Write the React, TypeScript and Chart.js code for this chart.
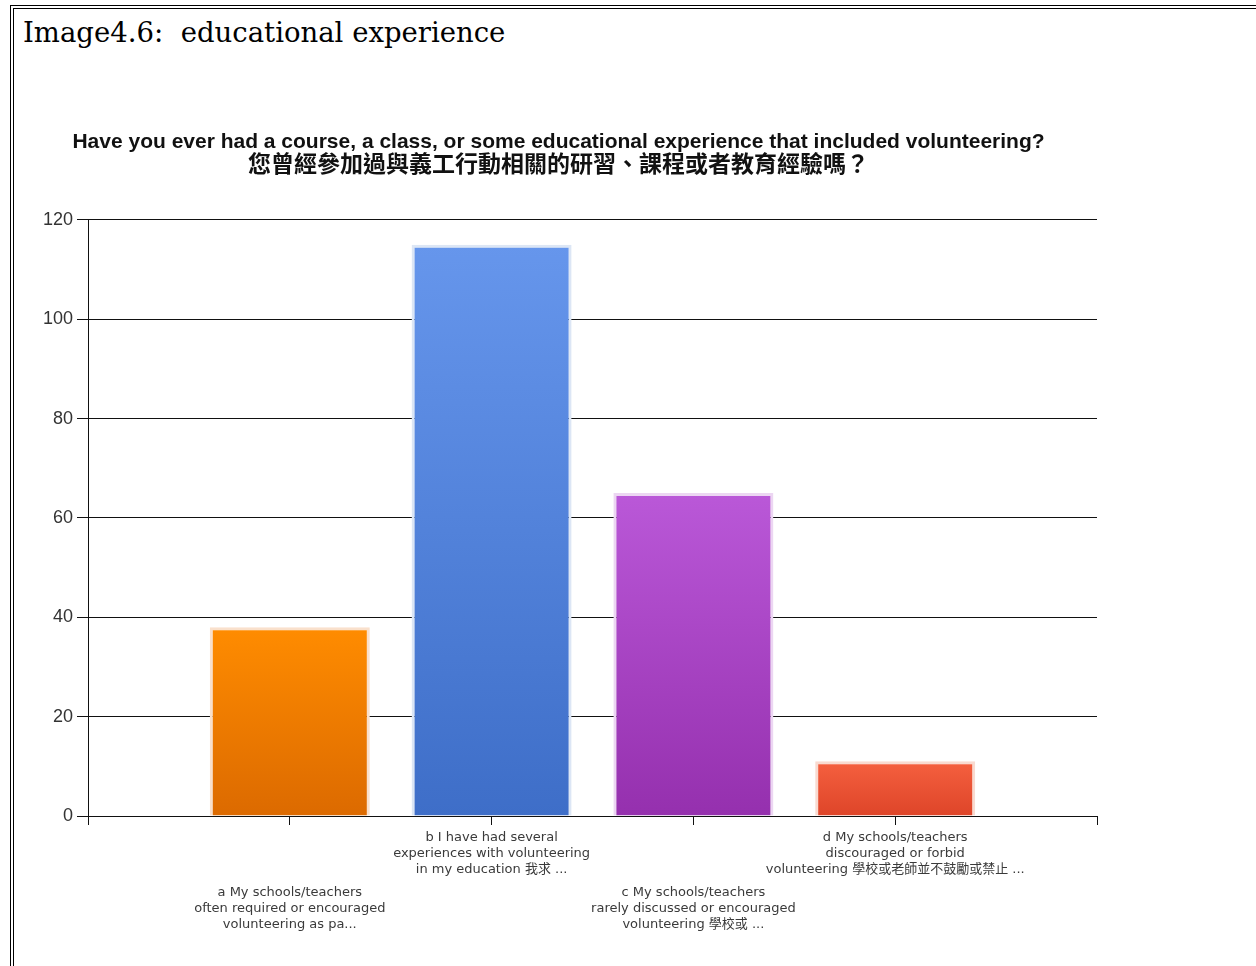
import React, { useEffect, useRef } from "react";
import { Chart, registerables } from "chart.js";

Chart.register(...registerables);

const pageHeading = "Image4.6:  educational experience";
const chartTitle =
  "Have you ever had a course, a class, or some educational experience that included volunteering?";
const chartSubtitle = "您曾經參加過與義工行動相關的研習、課程或者教育經驗嗎？";

const categoryLabels: string[][] = [
  ["a My schools/teachers", "often required or encouraged", "volunteering as pa..."],
  ["b I have had several", "experiences with volunteering", "in my education 我求 ..."],
  ["c My schools/teachers", "rarely discussed or encouraged", "volunteering 學校或 ..."],
  ["d My schools/teachers", "discouraged or forbid", "volunteering 學校或老師並不鼓勵或禁止 ..."],
];
const responses = [38, 115, 65, 11];
const yMin = 0;
const yMax = 120;
const yStep = 20;

const topColors = ["#FF8C00", "#6696EC", "#BA58D8", "#F5603F"];
const bottomColors = ["#DC6A00", "#3E6EC8", "#9530AE", "#DE4529"];
const borderColors = ["#F9E0CC", "#DCE6F5", "#ECD6F2", "#F9DAD0"];

export default function App() {
  const ref = useRef<HTMLCanvasElement>(null);

  useEffect(() => {
    const canvas = ref.current;
    if (!canvas) return;

    const labelPlugin = {
      id: "staggeredLabels",
      afterDraw(chart: any) {
        const ctx = chart.ctx;
        const xs = chart.scales.x;
        const bottom = chart.chartArea.bottom;
        ctx.save();
        ctx.font = "13px 'DejaVu Sans', 'Noto Sans CJK TC', sans-serif";
        ctx.fillStyle = "#3a3a3a";
        ctx.textAlign = "center";
        ctx.textBaseline = "middle";
        categoryLabels.forEach((lines, i) => {
          const x = xs.getPixelForValue(i + 1);
          const y0 = bottom + (i % 2 === 0 ? 77 : 22);
          lines.forEach((l, j) => ctx.fillText(l, x, y0 + j * 16));
        });
        ctx.restore();
      },
    };

    const chart = new Chart(canvas, {
      type: "bar",
      data: {
        datasets: [
          {
            data: responses.map((v, i) => ({ x: i + 1, y: v })),
            backgroundColor: (c: any) => {
              const ch = c.chart;
              const area = ch.chartArea;
              const i = c.dataIndex;
              if (!area || i === undefined || !ch.scales.y) return topColors[0];
              const yTop = ch.scales.y.getPixelForValue(responses[i]);
              const g = ch.ctx.createLinearGradient(0, yTop, 0, area.bottom);
              g.addColorStop(0, topColors[i]);
              g.addColorStop(1, bottomColors[i]);
              return g;
            },
            borderColor: borderColors,
            borderWidth: 3,
            borderSkipped: "bottom",
            barPercentage: 0.793,
            categoryPercentage: 1,
          } as any,
        ],
      },
      options: {
        responsive: false,
        animation: false,
        layout: { padding: { left: 20, right: 159, top: 134, bottom: 0 } },
        plugins: {
          legend: { display: false },
          tooltip: { enabled: false },
          title: {
            display: true,
            text: chartTitle,
            color: "#111",
            font: { family: "'Liberation Sans', Arial, sans-serif", weight: "bold", size: 21, lineHeight: 0.8 },
            padding: { top: 0, bottom: 0 },
          },
          subtitle: {
            display: true,
            text: chartSubtitle,
            color: "#111",
            font: { family: "'Noto Sans CJK TC', sans-serif", weight: "bold", size: 23, lineHeight: 1 },
            padding: { top: 1, bottom: 45 },
          },
        },
        scales: {
          x: {
            type: "linear",
            min: 0,
            max: 5,
            offset: false,
            ticks: { stepSize: 1, callback: () => "" },
            grid: { offset: false, drawOnChartArea: false, drawTicks: true, tickLength: 9, color: "#111" },
            border: { color: "#111" },
            afterFit: (s: any) => {
              s.height = 150;
            },
          },
          y: {
            min: yMin,
            max: yMax,
            ticks: {
              stepSize: yStep,
              color: "#333",
              padding: 4,
              font: { family: "'Liberation Sans', Arial, sans-serif", size: 18 },
            },
            grid: { color: "#111", tickLength: 11 },
            border: { color: "#111" },
            afterFit: (s: any) => {
              s.width = 68;
            },
          },
        },
      } as any,
      plugins: [labelPlugin],
    });

    return () => chart.destroy();
  }, []);

  return (
    <div style={{ position: "relative", width: 1256, height: 966, overflow: "hidden", background: "#fff" }}>
      <style>{"html,body{margin:0;padding:0;overflow:hidden;background:#fff}"}</style>
      <div
        style={{
          position: "absolute",
          left: 10,
          top: 5,
          width: 1246,
          height: 961,
          borderTop: "4px double #000",
          borderLeft: "4px double #000",
          boxSizing: "border-box",
        }}
      />
      <div
        style={{
          position: "absolute",
          left: 23,
          top: 16,
          fontFamily: "'DejaVu Serif', serif",
          fontSize: 27.5,
          lineHeight: "32px",
          color: "#000",
          whiteSpace: "pre",
        }}
      >
        {pageHeading}
      </div>
      <canvas ref={ref} width={1256} height={966} style={{ position: "absolute", left: 0, top: 0 }} />
    </div>
  );
}
